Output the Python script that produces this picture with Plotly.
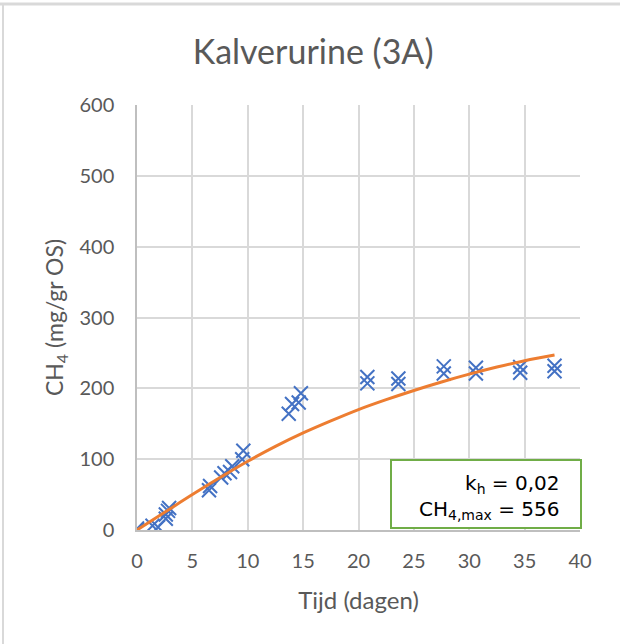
import plotly.graph_objects as go

# Measured methane production (duplicate bottles)
days = [0, 0, 1.4, 1.9, 2.6, 2.6, 2.8, 2.9,
        6.5, 6.6, 7.6, 7.9, 8.4, 8.6, 9.5, 9.6,
        13.7, 14.0, 14.6, 14.8, 20.8, 20.8, 23.6, 23.6,
        27.7, 27.7, 30.6, 30.6, 34.6, 34.6, 37.7, 37.7]
ch4 = [0, 2, 6, 4, 16, 22, 27, 31,
       56, 62, 74, 80, 82, 90, 100, 112,
       164, 178, 180, 193, 207, 216, 206, 214,
       221, 231, 221, 229, 222, 230, 224, 232]

# Fitted first-order curve
fit_days = [0, 2.5, 5, 7.5, 10, 12.5, 15, 17.5, 20, 22.5, 25, 27.5, 30, 32.5, 35, 37.7]
fit_ch4 = [0, 25, 50, 74, 97, 118, 137, 154, 170, 184, 197, 209, 220, 230, 239, 247]

x_ticks = [0, 5, 10, 15, 20, 25, 30, 35, 40]
y_ticks = [0, 100, 200, 300, 400, 500, 600]

fig = go.Figure()
fig.add_trace(go.Scatter(
    x=days, y=ch4, mode="markers",
    marker=dict(symbol="x-thin", size=14,
                line=dict(width=2, color="#4472c4"), color="#4472c4"),
    showlegend=False))
fig.add_trace(go.Scatter(
    x=fit_days, y=fit_ch4, mode="lines",
    line=dict(color="#ed7d31", width=3, shape="spline", smoothing=1.0),
    showlegend=False))

W, H = 620, 644
L, R, T, B = 137, 40, 105, 114
pw, ph = W - L - R, H - T - B

def px(xp):
    return (xp - L) / pw

def py(yp):
    return 1 - (yp - T) / ph

# Outer chart frame (top and left edges)
fig.add_shape(type="line", xref="paper", yref="paper",
              x0=px(0), x1=px(W), y0=py(4), y1=py(4),
              line=dict(color="#d9d9d9", width=3))
fig.add_shape(type="line", xref="paper", yref="paper",
              x0=px(3), x1=px(3), y0=py(4), y1=py(H),
              line=dict(color="#d9d9d9", width=2))

# Parameter box
fig.add_shape(type="rect", xref="paper", yref="paper",
              x0=px(391), x1=px(581), y0=py(460), y1=py(528),
              line=dict(color="#70ad47", width=2), fillcolor="white")
fig.add_annotation(xref="paper", yref="paper", x=px(562), y=py(497),
                   xanchor="right", yanchor="middle", align="right",
                   showarrow=False,
                   text="k<sub>h</sub> = 0,02<br>CH<sub>4,max</sub> = 556",
                   font=dict(family="DejaVu Sans", size=20, color="black"))

fig.update_layout(
    width=W, height=H,
    margin=dict(l=L, r=R, t=T, b=B),
    paper_bgcolor="white", plot_bgcolor="white",
    title=dict(text="Kalverurine (3A)", x=0.505, xanchor="center",
               y=1 - 52 / H, yanchor="middle",
               font=dict(family="Lato", size=34, color="#595959")),
    font=dict(family="Lato", color="#595959"),
)
fig.update_xaxes(
    range=[0, 40], tickvals=x_ticks, ticktext=[str(v) for v in x_ticks],
    showgrid=True, gridcolor="#d9d9d9", gridwidth=1.5,
    showline=True, linecolor="#bfbfbf", linewidth=1.5, zeroline=False,
    tickfont=dict(size=20, color="#595959"), ticklabelstandoff=12,
    title=dict(text="Tijd (dagen)", font=dict(size=24, color="#595959"), standoff=21),
)
fig.update_yaxes(
    range=[0, 600], tickvals=y_ticks, ticktext=[str(v) for v in y_ticks],
    showgrid=True, gridcolor="#d9d9d9", gridwidth=1.5,
    showline=True, linecolor="#bfbfbf", linewidth=1.5, zeroline=False,
    tickfont=dict(size=20, color="#595959"), ticklabelstandoff=17,
    title=dict(text="CH<sub>4</sub> (mg/gr OS)", font=dict(size=23, color="#595959"), standoff=9),
)

fig.write_html("out.html")
